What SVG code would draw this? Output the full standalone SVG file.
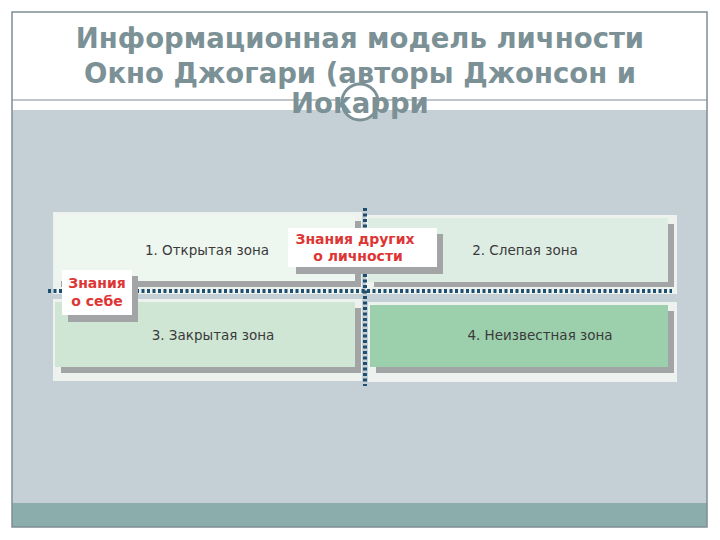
<svg xmlns="http://www.w3.org/2000/svg" width="720" height="540" viewBox="0 0 720 540">
<style>
.title{font-family:"DejaVu Sans",sans-serif;font-weight:bold;font-size:27.5px;fill:#7b9196;text-anchor:middle}
.zone{font-family:"DejaVu Sans",sans-serif;font-size:13.5px;fill:#3a3a3a;text-anchor:middle}
.lbl{font-family:"DejaVu Sans",sans-serif;font-weight:bold;font-size:14px;fill:#de3535;text-anchor:middle}
.shadow{fill:#a2a4a5}
.halo{fill:#eef2ef}
.dots{stroke:#1e4f6e;stroke-width:4;stroke-dasharray:3 2.5;fill:none}
</style>
<rect x="0" y="0" width="720" height="540" fill="#ffffff"/>
<rect x="12" y="110" width="695" height="393" fill="#c5d0d6"/>
<rect x="12" y="503" width="695" height="24" fill="#8badac"/>
<rect x="12" y="12" width="695" height="515" fill="none" stroke="#7d8f92" stroke-width="1.5"/>
<line x1="12" y1="100" x2="707" y2="100" stroke="#7d8f92" stroke-width="1.2"/>
<circle cx="360" cy="102" r="18" fill="#ffffff" stroke="#7b9196" stroke-width="3"/>
<g id="title">
<text class="title" x="360" y="48">Информационная модель личности</text>
<text class="title" x="360" y="83">Окно Джогари (авторы Джонсон и</text>
<text class="title" x="360" y="113">Иокарри</text>
</g>
<g id="zone1">
<rect class="halo" x="53" y="212" width="309" height="82"/>
<rect class="shadow" x="61" y="221" width="300" height="66"/>
<rect x="55" y="215" width="300" height="66" fill="#eef6f0"/>
<text class="zone" x="207" y="255">1. Открытая зона</text>
</g>
<g id="zone2">
<rect class="halo" x="366" y="215" width="311" height="79"/>
<rect class="shadow" x="374" y="224" width="300" height="63"/>
<rect x="368" y="218" width="300" height="64" fill="#deede3"/>
<text class="zone" x="525" y="255">2. Слепая зона</text>
</g>
<g id="zone3">
<rect class="halo" x="53" y="299" width="309" height="82"/>
<rect class="shadow" x="61" y="308" width="300" height="65"/>
<rect x="55" y="302" width="300" height="65" fill="#cfe6d4"/>
<text class="zone" x="213" y="340">3. Закрытая зона</text>
</g>
<g id="zone4">
<rect class="halo" x="368" y="302" width="309" height="80"/>
<rect class="shadow" x="376" y="311" width="298" height="62"/>
<rect x="370" y="305" width="298" height="62" fill="#9ccfac"/>
<text class="zone" x="540" y="340">4. Неизвестная зона</text>
</g>
<g id="connectors">
<line class="dots" x1="48" y1="291" x2="672" y2="291"/>
<line class="dots" x1="365" y1="208" x2="365" y2="386"/>
</g>
<g id="label-others">
<rect class="shadow" x="296" y="234" width="147" height="40"/>
<rect x="288" y="228" width="149" height="39" fill="#ffffff"/>
<text class="lbl" x="355" y="244">Знания других</text>
<text class="lbl" x="358" y="261">о личности</text>
</g>
<g id="label-self">
<rect class="shadow" x="68" y="276" width="70" height="46"/>
<rect x="62" y="270" width="70" height="45" fill="#ffffff"/>
<text class="lbl" x="97" y="288">Знания</text>
<text class="lbl" x="97" y="306">о себе</text>
</g>
</svg>
